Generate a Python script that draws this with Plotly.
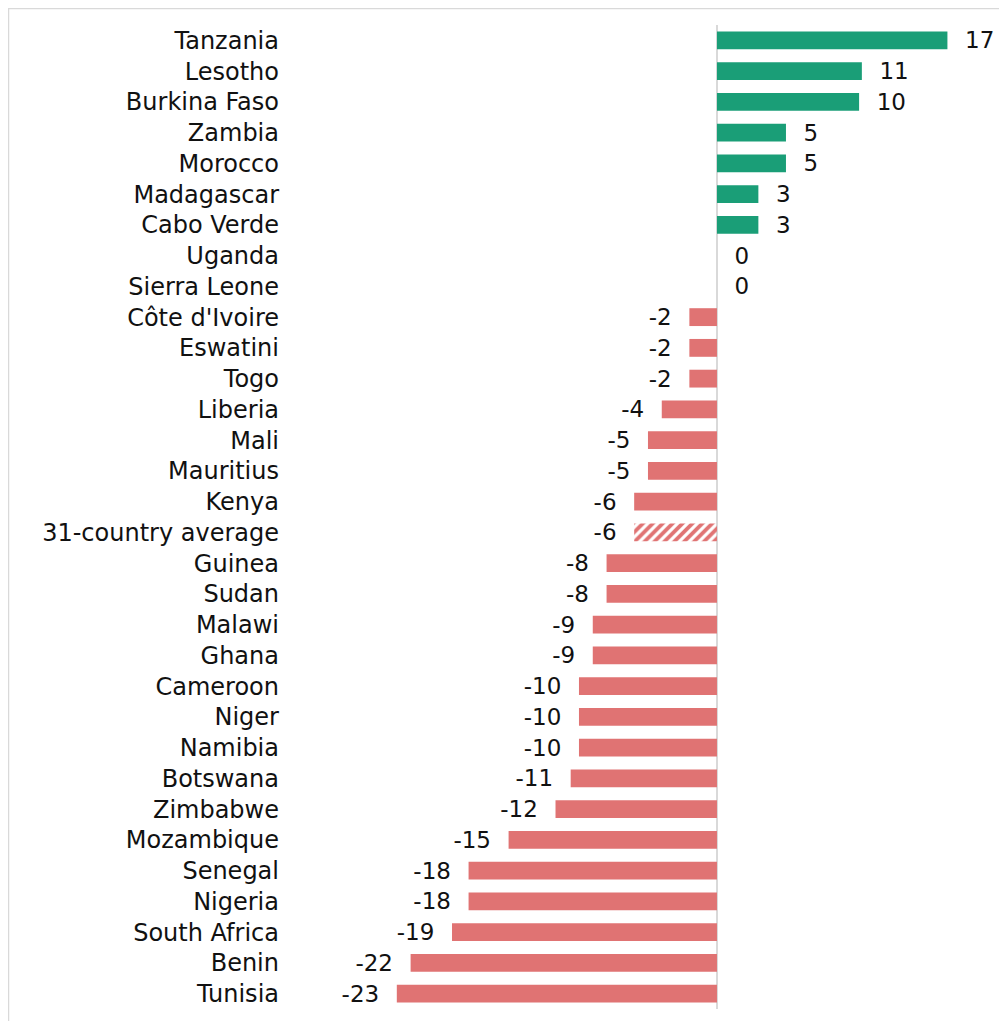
import plotly.graph_objects as go

countries = ["Tanzania", "Lesotho", "Burkina Faso", "Zambia", "Morocco", "Madagascar",
             "Cabo Verde", "Uganda", "Sierra Leone", "Côte d'Ivoire", "Eswatini", "Togo",
             "Liberia", "Mali", "Mauritius", "Kenya", "31-country average", "Guinea", "Sudan",
             "Malawi", "Ghana", "Cameroon", "Niger", "Namibia", "Botswana", "Zimbabwe",
             "Mozambique", "Senegal", "Nigeria", "South Africa", "Benin", "Tunisia"]
values = [16.7, 10.5, 10.3, 5.0, 5.0, 3.0, 3.0, 0.0, 0.0, -2.0, -2.0, -2.0,
          -4.0, -5.0, -5.0, -6.0, -6.0, -8.0, -8.0, -9.0, -9.0, -10.0, -10.0, -10.0,
          -10.6, -11.7, -15.1, -18.0, -18.0, -19.2, -22.2, -23.2]
labels = ["17", "11", "10", "5", "5", "3", "3", "0", "0", "-2", "-2", "-2",
          "-4", "-5", "-5", "-6", "-6", "-8", "-8", "-9", "-9", "-10", "-10", "-10",
          "-11", "-12", "-15", "-18", "-18", "-19", "-22", "-23"]

GREEN = "#1A9E77"
RED = "#E07373"
FONT = "DejaVu Sans, sans-serif"

colors = [GREEN if v > 0 else RED for v in values]
shapes_pat = ["/" if c == "31-country average" else "" for c in countries]
templates = ["%{text}  " if v < 0 else "  %{text}" for v in values]

fig = go.Figure(go.Bar(
    y=countries, x=values, orientation="h",
    marker=dict(color=colors, line=dict(width=0),
                pattern=dict(shape=shapes_pat, fgcolor=RED, bgcolor="white",
                             size=7, solidity=0.55, fillmode="replace")),
    text=labels, texttemplate=templates, textposition="outside",
    cliponaxis=False, constraintext="none",
    textfont=dict(size=23, color="#111111", family=FONT),
))

L, R = 282, 992
W, H = 999, 1021
T, B = 17, 20
fig.update_layout(
    width=W, height=H,
    margin=dict(l=L, r=W - R, t=T, b=B),
    paper_bgcolor="white", plot_bgcolor="white",
    bargap=0.42, showlegend=False,
    font=dict(family=FONT, size=23, color="#111111"),
    xaxis=dict(range=[-30.94, 20.51], showgrid=False, showticklabels=False,
               zeroline=True, zerolinecolor="#D9D9D9", zerolinewidth=2, ticks=""),
    yaxis=dict(autorange="reversed", showgrid=False, showline=False, ticks="",
               ticklabelstandoff=10, tickfont=dict(size=24, color="#111111")),
    shapes=[dict(type="rect", xref="paper", yref="paper",
                 x0=(0.5 - L) / (R - L), x1=(W - 0.5 - L) / (R - L),
                 y0=(B - H - 20) / (H - T - B), y1=(H - B - 0.5) / (H - T - B),
                 line=dict(color="#D9D9D9", width=1.5), layer="below")],
)
fig.write_html("out.html")
